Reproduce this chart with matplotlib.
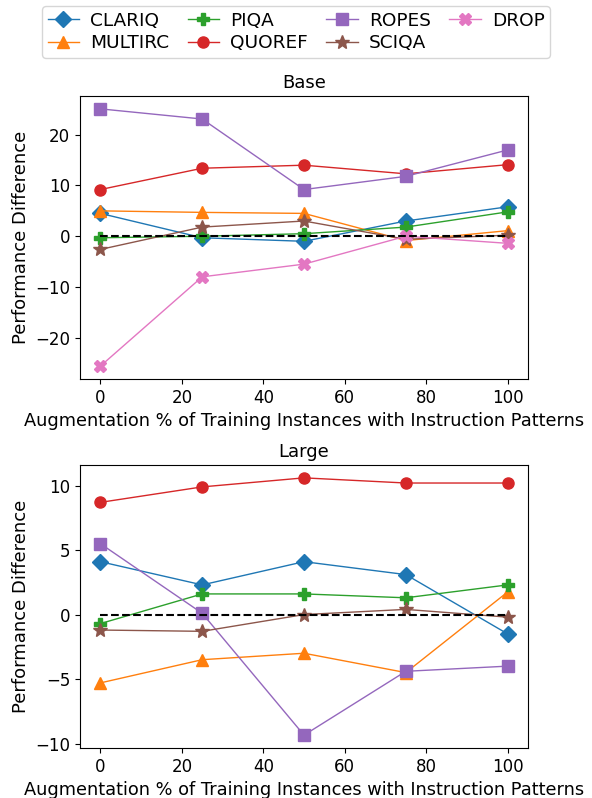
import matplotlib
matplotlib.use("Agg")
import matplotlib.pyplot as plt

x = [0, 25, 50, 75, 100]
names = ["CLARIQ", "MULTIRC", "PIQA", "QUOREF", "ROPES", "SCIQA", "DROP"]
markers = ["D", "^", "P", "o", "s", "*", "X"]
colors = ["#1f77b4", "#ff7f0e", "#2ca02c", "#d62728", "#9467bd", "#8c564b", "#e377c2"]

base = {
    "CLARIQ": [4.5, -0.3, -1.0, 3.0, 5.8],
    "MULTIRC": [5.0, 4.7, 4.5, -0.85, 1.1],
    "PIQA": [-0.3, 0.0, 0.5, 1.8, 4.8],
    "QUOREF": [9.2, 13.4, 14.0, 12.3, 14.1],
    "ROPES": [25.1, 23.1, 9.2, 11.8, 17.0],
    "SCIQA": [-2.6, 1.8, 3.0, -0.6, 0.2],
    "DROP": [-25.6, -8.0, -5.5, 0.0, -1.4],
}
large = {
    "CLARIQ": [4.1, 2.3, 4.1, 3.1, -1.5],
    "MULTIRC": [-5.3, -3.5, -3.0, -4.5, 1.75],
    "PIQA": [-0.7, 1.6, 1.6, 1.3, 2.3],
    "QUOREF": [8.7, 9.9, 10.6, 10.2, 10.2],
    "ROPES": [5.5, 0.1, -9.35, -4.4, -4.0],
    "SCIQA": [-1.2, -1.3, 0.0, 0.4, -0.2],
}

fig = plt.figure(figsize=(5.92, 7.98), dpi=100)
ax1 = fig.add_axes([80/592, 1-379/798, 448/592, 283/798])
ax2 = fig.add_axes([80/592, 1-748/798, 448/592, 283/798])

handles = []
for ax, data, title in [(ax1, base, "Base"), (ax2, large, "Large")]:
    for n, m, c in zip(names, markers, colors):
        if n not in data:
            continue
        ms = 10 if m == "*" else 8
        h, = ax.plot(x, data[n], marker=m, color=c, lw=1, ms=ms, label=n)
        if ax is ax1:
            handles.append(h)
    ax.plot([x[0], x[-1]], [0, 0], "k--", lw=1.5)
    ax.set_title(title, fontsize=13)
    ax.set_ylabel("Performance Difference", fontsize=13)
    ax.set_xlabel("Augmentation % of Training Instances with Instruction Patterns", fontsize=12.8)
    ax.tick_params(labelsize=12)

fig.legend(handles=handles, labels=names, loc="upper center", ncol=4,
           bbox_to_anchor=(0.5, 0.997), fontsize=13.3, handlelength=1.7,
           handletextpad=0.6, columnspacing=1.0, labelspacing=0.25,
           borderpad=0.3, borderaxespad=0.2)
fig.savefig("out.png", dpi=100)
